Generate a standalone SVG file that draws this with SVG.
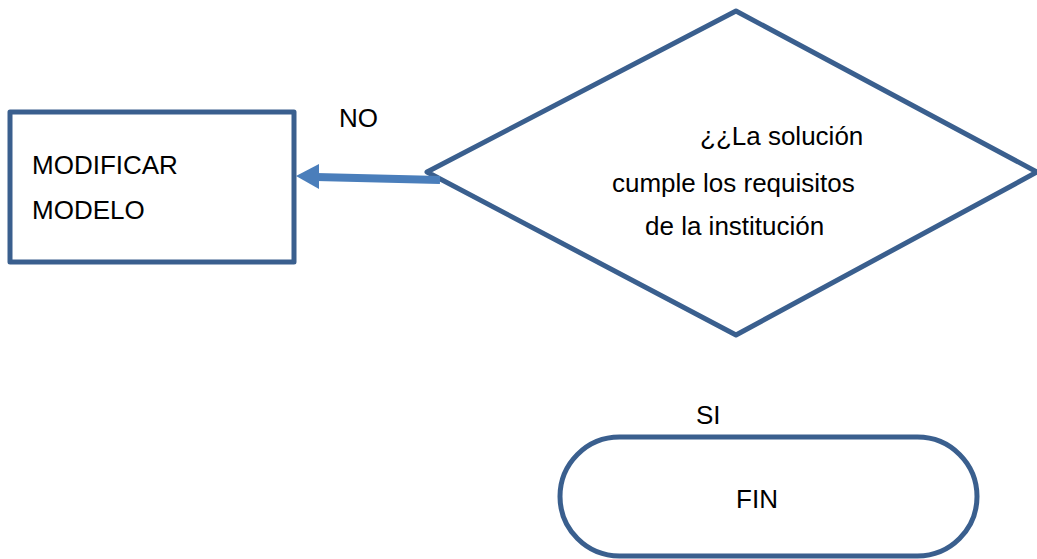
<svg xmlns="http://www.w3.org/2000/svg" width="1037" height="559" viewBox="0 0 1037 559">
<style>
.shape{fill:#fff;stroke:#3a5f8e;stroke-width:5;stroke-linejoin:round}
.t{font-family:"Liberation Sans",Arial,sans-serif;font-size:26px;fill:#000}
.conn{stroke:#4a7ebb;stroke-width:8;fill:none}
</style>
<rect width="1037" height="559" fill="#fff"/>
<g id="node-modificar">
<rect class="shape" x="10" y="112" width="284" height="150"/>
<text class="t" x="32" y="174">MODIFICAR</text>
<text class="t" x="32" y="219">MODELO</text>
</g>
<g id="node-decision">
<polygon class="shape" points="736,11 1037,172 736,335 427,172" stroke-linejoin="miter"/>
<text class="t" x="700" y="145">¿¿La solución</text>
<text class="t" x="612" y="192">cumple los requisitos</text>
<text class="t" x="645" y="235">de la institución</text>
</g>
<g id="node-fin">
<rect class="shape" x="560" y="437" width="417" height="119" rx="59.5" ry="59.5"/>
<text class="t" x="757" y="508" text-anchor="middle">FIN</text>
</g>
<g id="connectors">
<line class="conn" x1="440" y1="180" x2="316" y2="177"/>
<polygon points="296,176 319,164 319,189" fill="#4a7ebb"/>
<text class="t" x="339" y="127">NO</text>
<text class="t" x="696" y="424">SI</text>
</g>
</svg>
